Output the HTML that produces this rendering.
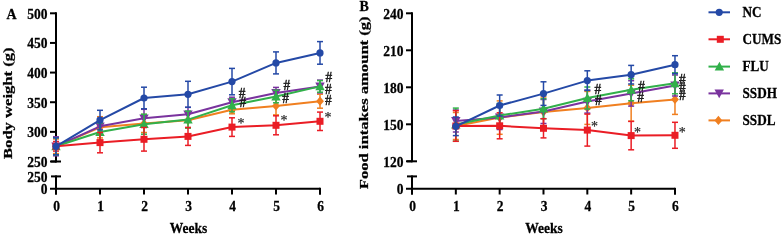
<!DOCTYPE html>
<html><head><meta charset="utf-8"><style>
html,body{margin:0;padding:0;background:#fff;width:783px;height:234px;overflow:hidden}
svg{display:block;will-change:transform}
text{font-family:"Liberation Serif",serif;font-weight:bold;fill:#000;stroke:#000;stroke-width:0.25px}
.an2{font-weight:normal;fill:#222;stroke:#222;stroke-width:0.2px}
.an{font-weight:normal;fill:#1a1a1a;stroke:#1a1a1a;stroke-width:0.45px}
</style></head><body>
<svg width="783" height="234" viewBox="0 0 783 234">
<line x1="56.00" y1="12.30" x2="56.00" y2="162.50" stroke="#000" stroke-width="2"/>
<line x1="50.00" y1="13.30" x2="56.00" y2="13.30" stroke="#000" stroke-width="2"/>
<text transform="translate(47.50,18.70) scale(1,1.15)" text-anchor="end" font-size="13.5" >500</text>
<line x1="50.00" y1="42.94" x2="56.00" y2="42.94" stroke="#000" stroke-width="2"/>
<text transform="translate(47.50,48.34) scale(1,1.15)" text-anchor="end" font-size="13.5" >450</text>
<line x1="50.00" y1="72.58" x2="56.00" y2="72.58" stroke="#000" stroke-width="2"/>
<text transform="translate(47.50,77.98) scale(1,1.15)" text-anchor="end" font-size="13.5" >400</text>
<line x1="50.00" y1="102.22" x2="56.00" y2="102.22" stroke="#000" stroke-width="2"/>
<text transform="translate(47.50,107.62) scale(1,1.15)" text-anchor="end" font-size="13.5" >350</text>
<line x1="50.00" y1="131.86" x2="56.00" y2="131.86" stroke="#000" stroke-width="2"/>
<text transform="translate(47.50,137.26) scale(1,1.15)" text-anchor="end" font-size="13.5" >300</text>
<line x1="50.00" y1="161.50" x2="56.00" y2="161.50" stroke="#000" stroke-width="2"/>
<text transform="translate(47.50,166.90) scale(1,1.15)" text-anchor="end" font-size="13.5" >250</text>
<line x1="51.00" y1="161.50" x2="61.00" y2="161.50" stroke="#000" stroke-width="2"/>
<line x1="51.00" y1="176.40" x2="61.00" y2="176.40" stroke="#000" stroke-width="2"/>
<line x1="56.00" y1="175.40" x2="56.00" y2="194.50" stroke="#000" stroke-width="2"/>
<text transform="translate(47.50,181.80) scale(1,1.15)" text-anchor="end" font-size="13.5" >250</text>
<line x1="50.00" y1="188.80" x2="320.00" y2="188.80" stroke="#000" stroke-width="2"/>
<text transform="translate(47.50,194.20) scale(1,1.15)" text-anchor="end" font-size="13.5" >0</text>
<line x1="56.00" y1="188.80" x2="56.00" y2="194.50" stroke="#000" stroke-width="2"/>
<text transform="translate(56.50,210.60) scale(1,1.15)" text-anchor="middle" font-size="13.5" >0</text>
<line x1="100.00" y1="188.80" x2="100.00" y2="194.50" stroke="#000" stroke-width="2"/>
<text transform="translate(100.50,210.60) scale(1,1.15)" text-anchor="middle" font-size="13.5" >1</text>
<line x1="144.00" y1="188.80" x2="144.00" y2="194.50" stroke="#000" stroke-width="2"/>
<text transform="translate(144.50,210.60) scale(1,1.15)" text-anchor="middle" font-size="13.5" >2</text>
<line x1="188.00" y1="188.80" x2="188.00" y2="194.50" stroke="#000" stroke-width="2"/>
<text transform="translate(188.50,210.60) scale(1,1.15)" text-anchor="middle" font-size="13.5" >3</text>
<line x1="232.00" y1="188.80" x2="232.00" y2="194.50" stroke="#000" stroke-width="2"/>
<text transform="translate(232.50,210.60) scale(1,1.15)" text-anchor="middle" font-size="13.5" >4</text>
<line x1="276.00" y1="188.80" x2="276.00" y2="194.50" stroke="#000" stroke-width="2"/>
<text transform="translate(276.50,210.60) scale(1,1.15)" text-anchor="middle" font-size="13.5" >5</text>
<line x1="320.00" y1="188.80" x2="320.00" y2="194.50" stroke="#000" stroke-width="2"/>
<text transform="translate(320.50,210.60) scale(1,1.15)" text-anchor="middle" font-size="13.5" >6</text>
<line x1="320.00" y1="187.80" x2="320.00" y2="194.50" stroke="#000" stroke-width="2"/>
<text transform="translate(188.50,232.60) scale(1,1.06)" text-anchor="middle" font-size="13.5" >Weeks</text>
<text transform="translate(12.40,103.20) scale(1,1.23) rotate(-90)" text-anchor="middle" font-size="13.5">Body weight (g)</text>
<text transform="translate(6.60,18.90) scale(1,1.08)" text-anchor="start" font-size="14" >A</text>
<line x1="56.00" y1="139.00" x2="56.00" y2="153.60" stroke="#f07f20" stroke-width="1.5"/>
<line x1="53.00" y1="139.00" x2="59.00" y2="139.00" stroke="#f07f20" stroke-width="1.5"/>
<line x1="53.00" y1="153.60" x2="59.00" y2="153.60" stroke="#f07f20" stroke-width="1.5"/>
<line x1="100.00" y1="116.70" x2="100.00" y2="137.90" stroke="#f07f20" stroke-width="1.5"/>
<line x1="97.00" y1="116.70" x2="103.00" y2="116.70" stroke="#f07f20" stroke-width="1.5"/>
<line x1="97.00" y1="137.90" x2="103.00" y2="137.90" stroke="#f07f20" stroke-width="1.5"/>
<line x1="144.00" y1="114.50" x2="144.00" y2="132.50" stroke="#f07f20" stroke-width="1.5"/>
<line x1="141.00" y1="114.50" x2="147.00" y2="114.50" stroke="#f07f20" stroke-width="1.5"/>
<line x1="141.00" y1="132.50" x2="147.00" y2="132.50" stroke="#f07f20" stroke-width="1.5"/>
<line x1="188.00" y1="112.80" x2="188.00" y2="127.80" stroke="#f07f20" stroke-width="1.5"/>
<line x1="185.00" y1="112.80" x2="191.00" y2="112.80" stroke="#f07f20" stroke-width="1.5"/>
<line x1="185.00" y1="127.80" x2="191.00" y2="127.80" stroke="#f07f20" stroke-width="1.5"/>
<line x1="232.00" y1="105.80" x2="232.00" y2="113.80" stroke="#f07f20" stroke-width="1.5"/>
<line x1="229.00" y1="105.80" x2="235.00" y2="105.80" stroke="#f07f20" stroke-width="1.5"/>
<line x1="229.00" y1="113.80" x2="235.00" y2="113.80" stroke="#f07f20" stroke-width="1.5"/>
<line x1="276.00" y1="96.90" x2="276.00" y2="114.90" stroke="#f07f20" stroke-width="1.5"/>
<line x1="273.00" y1="96.90" x2="279.00" y2="96.90" stroke="#f07f20" stroke-width="1.5"/>
<line x1="273.00" y1="114.90" x2="279.00" y2="114.90" stroke="#f07f20" stroke-width="1.5"/>
<line x1="320.00" y1="94.20" x2="320.00" y2="108.20" stroke="#f07f20" stroke-width="1.5"/>
<line x1="317.00" y1="94.20" x2="323.00" y2="94.20" stroke="#f07f20" stroke-width="1.5"/>
<line x1="317.00" y1="108.20" x2="323.00" y2="108.20" stroke="#f07f20" stroke-width="1.5"/>
<polyline points="56.00,146.30 100.00,127.30 144.00,123.50 188.00,120.30 232.00,109.80 276.00,105.90 320.00,101.20" fill="none" stroke="#f07f20" stroke-width="2.0" stroke-linejoin="round"/>
<polygon points="56.00,141.70 59.90,146.30 56.00,150.90 52.10,146.30" fill="#f07f20"/>
<polygon points="100.00,122.70 103.90,127.30 100.00,131.90 96.10,127.30" fill="#f07f20"/>
<polygon points="144.00,118.90 147.90,123.50 144.00,128.10 140.10,123.50" fill="#f07f20"/>
<polygon points="188.00,115.70 191.90,120.30 188.00,124.90 184.10,120.30" fill="#f07f20"/>
<polygon points="232.00,105.20 235.90,109.80 232.00,114.40 228.10,109.80" fill="#f07f20"/>
<polygon points="276.00,101.30 279.90,105.90 276.00,110.50 272.10,105.90" fill="#f07f20"/>
<polygon points="320.00,96.60 323.90,101.20 320.00,105.80 316.10,101.20" fill="#f07f20"/>
<line x1="56.00" y1="136.80" x2="56.00" y2="155.80" stroke="#7a339e" stroke-width="1.5"/>
<line x1="53.00" y1="136.80" x2="59.00" y2="136.80" stroke="#7a339e" stroke-width="1.5"/>
<line x1="53.00" y1="155.80" x2="59.00" y2="155.80" stroke="#7a339e" stroke-width="1.5"/>
<line x1="100.00" y1="118.30" x2="100.00" y2="134.30" stroke="#7a339e" stroke-width="1.5"/>
<line x1="97.00" y1="118.30" x2="103.00" y2="118.30" stroke="#7a339e" stroke-width="1.5"/>
<line x1="97.00" y1="134.30" x2="103.00" y2="134.30" stroke="#7a339e" stroke-width="1.5"/>
<line x1="144.00" y1="109.30" x2="144.00" y2="127.30" stroke="#7a339e" stroke-width="1.5"/>
<line x1="141.00" y1="109.30" x2="147.00" y2="109.30" stroke="#7a339e" stroke-width="1.5"/>
<line x1="141.00" y1="127.30" x2="147.00" y2="127.30" stroke="#7a339e" stroke-width="1.5"/>
<line x1="188.00" y1="107.30" x2="188.00" y2="121.30" stroke="#7a339e" stroke-width="1.5"/>
<line x1="185.00" y1="107.30" x2="191.00" y2="107.30" stroke="#7a339e" stroke-width="1.5"/>
<line x1="185.00" y1="121.30" x2="191.00" y2="121.30" stroke="#7a339e" stroke-width="1.5"/>
<line x1="232.00" y1="97.20" x2="232.00" y2="107.20" stroke="#7a339e" stroke-width="1.5"/>
<line x1="229.00" y1="97.20" x2="235.00" y2="97.20" stroke="#7a339e" stroke-width="1.5"/>
<line x1="229.00" y1="107.20" x2="235.00" y2="107.20" stroke="#7a339e" stroke-width="1.5"/>
<line x1="276.00" y1="87.40" x2="276.00" y2="98.40" stroke="#7a339e" stroke-width="1.5"/>
<line x1="273.00" y1="87.40" x2="279.00" y2="87.40" stroke="#7a339e" stroke-width="1.5"/>
<line x1="273.00" y1="98.40" x2="279.00" y2="98.40" stroke="#7a339e" stroke-width="1.5"/>
<line x1="320.00" y1="80.10" x2="320.00" y2="92.90" stroke="#7a339e" stroke-width="1.5"/>
<line x1="317.00" y1="80.10" x2="323.00" y2="80.10" stroke="#7a339e" stroke-width="1.5"/>
<line x1="317.00" y1="92.90" x2="323.00" y2="92.90" stroke="#7a339e" stroke-width="1.5"/>
<polyline points="56.00,146.30 100.00,126.30 144.00,118.30 188.00,114.30 232.00,102.20 276.00,92.90 320.00,86.50" fill="none" stroke="#7a339e" stroke-width="2.0" stroke-linejoin="round"/>
<polygon points="51.30,142.40 60.70,142.40 56.00,151.20" fill="#7a339e"/>
<polygon points="95.30,122.40 104.70,122.40 100.00,131.20" fill="#7a339e"/>
<polygon points="139.30,114.40 148.70,114.40 144.00,123.20" fill="#7a339e"/>
<polygon points="183.30,110.40 192.70,110.40 188.00,119.20" fill="#7a339e"/>
<polygon points="227.30,98.30 236.70,98.30 232.00,107.10" fill="#7a339e"/>
<polygon points="271.30,89.00 280.70,89.00 276.00,97.80" fill="#7a339e"/>
<polygon points="315.30,82.60 324.70,82.60 320.00,91.40" fill="#7a339e"/>
<line x1="56.00" y1="137.80" x2="56.00" y2="154.80" stroke="#31b04a" stroke-width="1.5"/>
<line x1="53.00" y1="137.80" x2="59.00" y2="137.80" stroke="#31b04a" stroke-width="1.5"/>
<line x1="53.00" y1="154.80" x2="59.00" y2="154.80" stroke="#31b04a" stroke-width="1.5"/>
<line x1="100.00" y1="123.00" x2="100.00" y2="141.00" stroke="#31b04a" stroke-width="1.5"/>
<line x1="97.00" y1="123.00" x2="103.00" y2="123.00" stroke="#31b04a" stroke-width="1.5"/>
<line x1="97.00" y1="141.00" x2="103.00" y2="141.00" stroke="#31b04a" stroke-width="1.5"/>
<line x1="144.00" y1="114.20" x2="144.00" y2="134.20" stroke="#31b04a" stroke-width="1.5"/>
<line x1="141.00" y1="114.20" x2="147.00" y2="114.20" stroke="#31b04a" stroke-width="1.5"/>
<line x1="141.00" y1="134.20" x2="147.00" y2="134.20" stroke="#31b04a" stroke-width="1.5"/>
<line x1="188.00" y1="111.10" x2="188.00" y2="128.10" stroke="#31b04a" stroke-width="1.5"/>
<line x1="185.00" y1="111.10" x2="191.00" y2="111.10" stroke="#31b04a" stroke-width="1.5"/>
<line x1="185.00" y1="128.10" x2="191.00" y2="128.10" stroke="#31b04a" stroke-width="1.5"/>
<line x1="232.00" y1="98.80" x2="232.00" y2="111.80" stroke="#31b04a" stroke-width="1.5"/>
<line x1="229.00" y1="98.80" x2="235.00" y2="98.80" stroke="#31b04a" stroke-width="1.5"/>
<line x1="229.00" y1="111.80" x2="235.00" y2="111.80" stroke="#31b04a" stroke-width="1.5"/>
<line x1="276.00" y1="90.20" x2="276.00" y2="102.80" stroke="#31b04a" stroke-width="1.5"/>
<line x1="273.00" y1="90.20" x2="279.00" y2="90.20" stroke="#31b04a" stroke-width="1.5"/>
<line x1="273.00" y1="102.80" x2="279.00" y2="102.80" stroke="#31b04a" stroke-width="1.5"/>
<line x1="320.00" y1="80.60" x2="320.00" y2="92.20" stroke="#31b04a" stroke-width="1.5"/>
<line x1="317.00" y1="80.60" x2="323.00" y2="80.60" stroke="#31b04a" stroke-width="1.5"/>
<line x1="317.00" y1="92.20" x2="323.00" y2="92.20" stroke="#31b04a" stroke-width="1.5"/>
<polyline points="56.00,146.30 100.00,132.00 144.00,124.20 188.00,119.60 232.00,105.30 276.00,96.50 320.00,86.40" fill="none" stroke="#31b04a" stroke-width="2.0" stroke-linejoin="round"/>
<polygon points="56.00,141.40 60.70,150.20 51.30,150.20" fill="#31b04a"/>
<polygon points="100.00,127.10 104.70,135.90 95.30,135.90" fill="#31b04a"/>
<polygon points="144.00,119.30 148.70,128.10 139.30,128.10" fill="#31b04a"/>
<polygon points="188.00,114.70 192.70,123.50 183.30,123.50" fill="#31b04a"/>
<polygon points="232.00,100.40 236.70,109.20 227.30,109.20" fill="#31b04a"/>
<polygon points="276.00,91.60 280.70,100.40 271.30,100.40" fill="#31b04a"/>
<polygon points="320.00,81.50 324.70,90.30 315.30,90.30" fill="#31b04a"/>
<line x1="56.00" y1="141.50" x2="56.00" y2="151.10" stroke="#ea1d25" stroke-width="1.5"/>
<line x1="53.00" y1="141.50" x2="59.00" y2="141.50" stroke="#ea1d25" stroke-width="1.5"/>
<line x1="53.00" y1="151.10" x2="59.00" y2="151.10" stroke="#ea1d25" stroke-width="1.5"/>
<line x1="100.00" y1="132.40" x2="100.00" y2="152.80" stroke="#ea1d25" stroke-width="1.5"/>
<line x1="97.00" y1="132.40" x2="103.00" y2="132.40" stroke="#ea1d25" stroke-width="1.5"/>
<line x1="97.00" y1="152.80" x2="103.00" y2="152.80" stroke="#ea1d25" stroke-width="1.5"/>
<line x1="144.00" y1="127.50" x2="144.00" y2="151.10" stroke="#ea1d25" stroke-width="1.5"/>
<line x1="141.00" y1="127.50" x2="147.00" y2="127.50" stroke="#ea1d25" stroke-width="1.5"/>
<line x1="141.00" y1="151.10" x2="147.00" y2="151.10" stroke="#ea1d25" stroke-width="1.5"/>
<line x1="188.00" y1="127.40" x2="188.00" y2="145.40" stroke="#ea1d25" stroke-width="1.5"/>
<line x1="185.00" y1="127.40" x2="191.00" y2="127.40" stroke="#ea1d25" stroke-width="1.5"/>
<line x1="185.00" y1="145.40" x2="191.00" y2="145.40" stroke="#ea1d25" stroke-width="1.5"/>
<line x1="232.00" y1="117.80" x2="232.00" y2="136.40" stroke="#ea1d25" stroke-width="1.5"/>
<line x1="229.00" y1="117.80" x2="235.00" y2="117.80" stroke="#ea1d25" stroke-width="1.5"/>
<line x1="229.00" y1="136.40" x2="235.00" y2="136.40" stroke="#ea1d25" stroke-width="1.5"/>
<line x1="276.00" y1="115.80" x2="276.00" y2="134.80" stroke="#ea1d25" stroke-width="1.5"/>
<line x1="273.00" y1="115.80" x2="279.00" y2="115.80" stroke="#ea1d25" stroke-width="1.5"/>
<line x1="273.00" y1="134.80" x2="279.00" y2="134.80" stroke="#ea1d25" stroke-width="1.5"/>
<line x1="320.00" y1="112.10" x2="320.00" y2="130.50" stroke="#ea1d25" stroke-width="1.5"/>
<line x1="317.00" y1="112.10" x2="323.00" y2="112.10" stroke="#ea1d25" stroke-width="1.5"/>
<line x1="317.00" y1="130.50" x2="323.00" y2="130.50" stroke="#ea1d25" stroke-width="1.5"/>
<polyline points="56.00,146.30 100.00,142.60 144.00,139.30 188.00,136.40 232.00,127.10 276.00,125.30 320.00,121.30" fill="none" stroke="#ea1d25" stroke-width="2.0" stroke-linejoin="round"/>
<rect x="52.50" y="142.80" width="7" height="7" fill="#ea1d25"/>
<rect x="96.50" y="139.10" width="7" height="7" fill="#ea1d25"/>
<rect x="140.50" y="135.80" width="7" height="7" fill="#ea1d25"/>
<rect x="184.50" y="132.90" width="7" height="7" fill="#ea1d25"/>
<rect x="228.50" y="123.60" width="7" height="7" fill="#ea1d25"/>
<rect x="272.50" y="121.80" width="7" height="7" fill="#ea1d25"/>
<rect x="316.50" y="117.80" width="7" height="7" fill="#ea1d25"/>
<line x1="56.00" y1="137.80" x2="56.00" y2="154.80" stroke="#2449a6" stroke-width="1.5"/>
<line x1="53.00" y1="137.80" x2="59.00" y2="137.80" stroke="#2449a6" stroke-width="1.5"/>
<line x1="53.00" y1="154.80" x2="59.00" y2="154.80" stroke="#2449a6" stroke-width="1.5"/>
<line x1="100.00" y1="110.30" x2="100.00" y2="129.90" stroke="#2449a6" stroke-width="1.5"/>
<line x1="97.00" y1="110.30" x2="103.00" y2="110.30" stroke="#2449a6" stroke-width="1.5"/>
<line x1="97.00" y1="129.90" x2="103.00" y2="129.90" stroke="#2449a6" stroke-width="1.5"/>
<line x1="144.00" y1="87.20" x2="144.00" y2="108.80" stroke="#2449a6" stroke-width="1.5"/>
<line x1="141.00" y1="87.20" x2="147.00" y2="87.20" stroke="#2449a6" stroke-width="1.5"/>
<line x1="141.00" y1="108.80" x2="147.00" y2="108.80" stroke="#2449a6" stroke-width="1.5"/>
<line x1="188.00" y1="81.30" x2="188.00" y2="107.30" stroke="#2449a6" stroke-width="1.5"/>
<line x1="185.00" y1="81.30" x2="191.00" y2="81.30" stroke="#2449a6" stroke-width="1.5"/>
<line x1="185.00" y1="107.30" x2="191.00" y2="107.30" stroke="#2449a6" stroke-width="1.5"/>
<line x1="232.00" y1="68.40" x2="232.00" y2="94.80" stroke="#2449a6" stroke-width="1.5"/>
<line x1="229.00" y1="68.40" x2="235.00" y2="68.40" stroke="#2449a6" stroke-width="1.5"/>
<line x1="229.00" y1="94.80" x2="235.00" y2="94.80" stroke="#2449a6" stroke-width="1.5"/>
<line x1="276.00" y1="51.90" x2="276.00" y2="73.90" stroke="#2449a6" stroke-width="1.5"/>
<line x1="273.00" y1="51.90" x2="279.00" y2="51.90" stroke="#2449a6" stroke-width="1.5"/>
<line x1="273.00" y1="73.90" x2="279.00" y2="73.90" stroke="#2449a6" stroke-width="1.5"/>
<line x1="320.00" y1="41.60" x2="320.00" y2="64.20" stroke="#2449a6" stroke-width="1.5"/>
<line x1="317.00" y1="41.60" x2="323.00" y2="41.60" stroke="#2449a6" stroke-width="1.5"/>
<line x1="317.00" y1="64.20" x2="323.00" y2="64.20" stroke="#2449a6" stroke-width="1.5"/>
<polyline points="56.00,146.30 100.00,120.10 144.00,98.00 188.00,94.30 232.00,81.60 276.00,62.90 320.00,52.90" fill="none" stroke="#2449a6" stroke-width="2.0" stroke-linejoin="round"/>
<circle cx="56.00" cy="146.30" r="3.6" fill="#2449a6"/>
<circle cx="100.00" cy="120.10" r="3.6" fill="#2449a6"/>
<circle cx="144.00" cy="98.00" r="3.6" fill="#2449a6"/>
<circle cx="188.00" cy="94.30" r="3.6" fill="#2449a6"/>
<circle cx="232.00" cy="81.60" r="3.6" fill="#2449a6"/>
<circle cx="276.00" cy="62.90" r="3.6" fill="#2449a6"/>
<circle cx="320.00" cy="52.90" r="3.6" fill="#2449a6"/>
<line x1="412.00" y1="12.30" x2="412.00" y2="162.30" stroke="#000" stroke-width="2"/>
<line x1="406.00" y1="13.30" x2="412.00" y2="13.30" stroke="#000" stroke-width="2"/>
<text transform="translate(403.50,18.70) scale(1,1.15)" text-anchor="end" font-size="13.5" >240</text>
<line x1="406.00" y1="50.30" x2="412.00" y2="50.30" stroke="#000" stroke-width="2"/>
<text transform="translate(403.50,55.70) scale(1,1.15)" text-anchor="end" font-size="13.5" >210</text>
<line x1="406.00" y1="87.30" x2="412.00" y2="87.30" stroke="#000" stroke-width="2"/>
<text transform="translate(403.50,92.70) scale(1,1.15)" text-anchor="end" font-size="13.5" >180</text>
<line x1="406.00" y1="124.30" x2="412.00" y2="124.30" stroke="#000" stroke-width="2"/>
<text transform="translate(403.50,129.70) scale(1,1.15)" text-anchor="end" font-size="13.5" >150</text>
<line x1="406.00" y1="161.30" x2="412.00" y2="161.30" stroke="#000" stroke-width="2"/>
<text transform="translate(403.50,166.70) scale(1,1.15)" text-anchor="end" font-size="13.5" >120</text>
<line x1="407.00" y1="161.30" x2="417.00" y2="161.30" stroke="#000" stroke-width="2"/>
<line x1="407.00" y1="176.40" x2="417.00" y2="176.40" stroke="#000" stroke-width="2"/>
<line x1="412.00" y1="175.40" x2="412.00" y2="194.50" stroke="#000" stroke-width="2"/>
<line x1="406.00" y1="188.80" x2="674.98" y2="188.80" stroke="#000" stroke-width="2"/>
<text transform="translate(403.50,194.20) scale(1,1.15)" text-anchor="end" font-size="13.5" >0</text>
<line x1="412.00" y1="188.80" x2="412.00" y2="194.50" stroke="#000" stroke-width="2"/>
<text transform="translate(412.50,210.60) scale(1,1.15)" text-anchor="middle" font-size="13.5" >0</text>
<line x1="455.83" y1="188.80" x2="455.83" y2="194.50" stroke="#000" stroke-width="2"/>
<text transform="translate(456.33,210.60) scale(1,1.15)" text-anchor="middle" font-size="13.5" >1</text>
<line x1="499.66" y1="188.80" x2="499.66" y2="194.50" stroke="#000" stroke-width="2"/>
<text transform="translate(500.16,210.60) scale(1,1.15)" text-anchor="middle" font-size="13.5" >2</text>
<line x1="543.49" y1="188.80" x2="543.49" y2="194.50" stroke="#000" stroke-width="2"/>
<text transform="translate(543.99,210.60) scale(1,1.15)" text-anchor="middle" font-size="13.5" >3</text>
<line x1="587.32" y1="188.80" x2="587.32" y2="194.50" stroke="#000" stroke-width="2"/>
<text transform="translate(587.82,210.60) scale(1,1.15)" text-anchor="middle" font-size="13.5" >4</text>
<line x1="631.15" y1="188.80" x2="631.15" y2="194.50" stroke="#000" stroke-width="2"/>
<text transform="translate(631.65,210.60) scale(1,1.15)" text-anchor="middle" font-size="13.5" >5</text>
<line x1="674.98" y1="188.80" x2="674.98" y2="194.50" stroke="#000" stroke-width="2"/>
<text transform="translate(675.48,210.60) scale(1,1.15)" text-anchor="middle" font-size="13.5" >6</text>
<line x1="674.98" y1="187.80" x2="674.98" y2="194.50" stroke="#000" stroke-width="2"/>
<text transform="translate(543.99,232.60) scale(1,1.06)" text-anchor="middle" font-size="13.5" >Weeks</text>
<text transform="translate(368.40,102.80) scale(1,1.23) rotate(-90)" text-anchor="middle" font-size="13.5">Food intakes amount (g)</text>
<text transform="translate(359.60,10.90) scale(1,1.08)" text-anchor="start" font-size="14" >B</text>
<line x1="455.83" y1="112.50" x2="455.83" y2="139.50" stroke="#f07f20" stroke-width="1.5"/>
<line x1="452.83" y1="112.50" x2="458.83" y2="112.50" stroke="#f07f20" stroke-width="1.5"/>
<line x1="452.83" y1="139.50" x2="458.83" y2="139.50" stroke="#f07f20" stroke-width="1.5"/>
<line x1="499.66" y1="100.90" x2="499.66" y2="134.30" stroke="#f07f20" stroke-width="1.5"/>
<line x1="496.66" y1="100.90" x2="502.66" y2="100.90" stroke="#f07f20" stroke-width="1.5"/>
<line x1="496.66" y1="134.30" x2="502.66" y2="134.30" stroke="#f07f20" stroke-width="1.5"/>
<line x1="543.49" y1="97.00" x2="543.49" y2="127.00" stroke="#f07f20" stroke-width="1.5"/>
<line x1="540.49" y1="97.00" x2="546.49" y2="97.00" stroke="#f07f20" stroke-width="1.5"/>
<line x1="540.49" y1="127.00" x2="546.49" y2="127.00" stroke="#f07f20" stroke-width="1.5"/>
<line x1="587.32" y1="91.40" x2="587.32" y2="124.40" stroke="#f07f20" stroke-width="1.5"/>
<line x1="584.32" y1="91.40" x2="590.32" y2="91.40" stroke="#f07f20" stroke-width="1.5"/>
<line x1="584.32" y1="124.40" x2="590.32" y2="124.40" stroke="#f07f20" stroke-width="1.5"/>
<line x1="631.15" y1="85.20" x2="631.15" y2="121.20" stroke="#f07f20" stroke-width="1.5"/>
<line x1="628.15" y1="85.20" x2="634.15" y2="85.20" stroke="#f07f20" stroke-width="1.5"/>
<line x1="628.15" y1="121.20" x2="634.15" y2="121.20" stroke="#f07f20" stroke-width="1.5"/>
<line x1="674.98" y1="84.40" x2="674.98" y2="114.40" stroke="#f07f20" stroke-width="1.5"/>
<line x1="671.98" y1="84.40" x2="677.98" y2="84.40" stroke="#f07f20" stroke-width="1.5"/>
<line x1="671.98" y1="114.40" x2="677.98" y2="114.40" stroke="#f07f20" stroke-width="1.5"/>
<polyline points="455.83,126.00 499.66,117.60 543.49,112.00 587.32,107.90 631.15,103.20 674.98,99.40" fill="none" stroke="#f07f20" stroke-width="2.0" stroke-linejoin="round"/>
<polygon points="455.83,121.40 459.73,126.00 455.83,130.60 451.93,126.00" fill="#f07f20"/>
<polygon points="499.66,113.00 503.56,117.60 499.66,122.20 495.76,117.60" fill="#f07f20"/>
<polygon points="543.49,107.40 547.39,112.00 543.49,116.60 539.59,112.00" fill="#f07f20"/>
<polygon points="587.32,103.30 591.22,107.90 587.32,112.50 583.42,107.90" fill="#f07f20"/>
<polygon points="631.15,98.60 635.05,103.20 631.15,107.80 627.25,103.20" fill="#f07f20"/>
<polygon points="674.98,94.80 678.88,99.40 674.98,104.00 671.08,99.40" fill="#f07f20"/>
<line x1="455.83" y1="110.00" x2="455.83" y2="132.00" stroke="#7a339e" stroke-width="1.5"/>
<line x1="452.83" y1="110.00" x2="458.83" y2="110.00" stroke="#7a339e" stroke-width="1.5"/>
<line x1="452.83" y1="132.00" x2="458.83" y2="132.00" stroke="#7a339e" stroke-width="1.5"/>
<line x1="499.66" y1="105.50" x2="499.66" y2="129.50" stroke="#7a339e" stroke-width="1.5"/>
<line x1="496.66" y1="105.50" x2="502.66" y2="105.50" stroke="#7a339e" stroke-width="1.5"/>
<line x1="496.66" y1="129.50" x2="502.66" y2="129.50" stroke="#7a339e" stroke-width="1.5"/>
<line x1="543.49" y1="99.50" x2="543.49" y2="123.50" stroke="#7a339e" stroke-width="1.5"/>
<line x1="540.49" y1="99.50" x2="546.49" y2="99.50" stroke="#7a339e" stroke-width="1.5"/>
<line x1="540.49" y1="123.50" x2="546.49" y2="123.50" stroke="#7a339e" stroke-width="1.5"/>
<line x1="587.32" y1="90.10" x2="587.32" y2="113.10" stroke="#7a339e" stroke-width="1.5"/>
<line x1="584.32" y1="90.10" x2="590.32" y2="90.10" stroke="#7a339e" stroke-width="1.5"/>
<line x1="584.32" y1="113.10" x2="590.32" y2="113.10" stroke="#7a339e" stroke-width="1.5"/>
<line x1="631.15" y1="80.70" x2="631.15" y2="106.10" stroke="#7a339e" stroke-width="1.5"/>
<line x1="628.15" y1="80.70" x2="634.15" y2="80.70" stroke="#7a339e" stroke-width="1.5"/>
<line x1="628.15" y1="106.10" x2="634.15" y2="106.10" stroke="#7a339e" stroke-width="1.5"/>
<line x1="674.98" y1="75.00" x2="674.98" y2="96.00" stroke="#7a339e" stroke-width="1.5"/>
<line x1="671.98" y1="75.00" x2="677.98" y2="75.00" stroke="#7a339e" stroke-width="1.5"/>
<line x1="671.98" y1="96.00" x2="677.98" y2="96.00" stroke="#7a339e" stroke-width="1.5"/>
<polyline points="455.83,121.00 499.66,117.50 543.49,111.50 587.32,101.60 631.15,93.40 674.98,85.50" fill="none" stroke="#7a339e" stroke-width="2.0" stroke-linejoin="round"/>
<polygon points="451.13,117.10 460.53,117.10 455.83,125.90" fill="#7a339e"/>
<polygon points="494.96,113.60 504.36,113.60 499.66,122.40" fill="#7a339e"/>
<polygon points="538.79,107.60 548.19,107.60 543.49,116.40" fill="#7a339e"/>
<polygon points="582.62,97.70 592.02,97.70 587.32,106.50" fill="#7a339e"/>
<polygon points="626.45,89.50 635.85,89.50 631.15,98.30" fill="#7a339e"/>
<polygon points="670.28,81.60 679.68,81.60 674.98,90.40" fill="#7a339e"/>
<line x1="455.83" y1="108.10" x2="455.83" y2="141.10" stroke="#31b04a" stroke-width="1.5"/>
<line x1="452.83" y1="108.10" x2="458.83" y2="108.10" stroke="#31b04a" stroke-width="1.5"/>
<line x1="452.83" y1="141.10" x2="458.83" y2="141.10" stroke="#31b04a" stroke-width="1.5"/>
<line x1="499.66" y1="103.50" x2="499.66" y2="127.50" stroke="#31b04a" stroke-width="1.5"/>
<line x1="496.66" y1="103.50" x2="502.66" y2="103.50" stroke="#31b04a" stroke-width="1.5"/>
<line x1="496.66" y1="127.50" x2="502.66" y2="127.50" stroke="#31b04a" stroke-width="1.5"/>
<line x1="543.49" y1="98.70" x2="543.49" y2="118.70" stroke="#31b04a" stroke-width="1.5"/>
<line x1="540.49" y1="98.70" x2="546.49" y2="98.70" stroke="#31b04a" stroke-width="1.5"/>
<line x1="540.49" y1="118.70" x2="546.49" y2="118.70" stroke="#31b04a" stroke-width="1.5"/>
<line x1="587.32" y1="87.00" x2="587.32" y2="109.00" stroke="#31b04a" stroke-width="1.5"/>
<line x1="584.32" y1="87.00" x2="590.32" y2="87.00" stroke="#31b04a" stroke-width="1.5"/>
<line x1="584.32" y1="109.00" x2="590.32" y2="109.00" stroke="#31b04a" stroke-width="1.5"/>
<line x1="631.15" y1="78.80" x2="631.15" y2="100.80" stroke="#31b04a" stroke-width="1.5"/>
<line x1="628.15" y1="78.80" x2="634.15" y2="78.80" stroke="#31b04a" stroke-width="1.5"/>
<line x1="628.15" y1="100.80" x2="634.15" y2="100.80" stroke="#31b04a" stroke-width="1.5"/>
<line x1="674.98" y1="72.80" x2="674.98" y2="93.80" stroke="#31b04a" stroke-width="1.5"/>
<line x1="671.98" y1="72.80" x2="677.98" y2="72.80" stroke="#31b04a" stroke-width="1.5"/>
<line x1="671.98" y1="93.80" x2="677.98" y2="93.80" stroke="#31b04a" stroke-width="1.5"/>
<polyline points="455.83,124.60 499.66,115.50 543.49,108.70 587.32,98.00 631.15,89.80 674.98,83.30" fill="none" stroke="#31b04a" stroke-width="2.0" stroke-linejoin="round"/>
<polygon points="455.83,119.70 460.53,128.50 451.13,128.50" fill="#31b04a"/>
<polygon points="499.66,110.60 504.36,119.40 494.96,119.40" fill="#31b04a"/>
<polygon points="543.49,103.80 548.19,112.60 538.79,112.60" fill="#31b04a"/>
<polygon points="587.32,93.10 592.02,101.90 582.62,101.90" fill="#31b04a"/>
<polygon points="631.15,84.90 635.85,93.70 626.45,93.70" fill="#31b04a"/>
<polygon points="674.98,78.40 679.68,87.20 670.28,87.20" fill="#31b04a"/>
<line x1="455.83" y1="110.70" x2="455.83" y2="141.30" stroke="#ea1d25" stroke-width="1.5"/>
<line x1="452.83" y1="110.70" x2="458.83" y2="110.70" stroke="#ea1d25" stroke-width="1.5"/>
<line x1="452.83" y1="141.30" x2="458.83" y2="141.30" stroke="#ea1d25" stroke-width="1.5"/>
<line x1="499.66" y1="112.80" x2="499.66" y2="138.80" stroke="#ea1d25" stroke-width="1.5"/>
<line x1="496.66" y1="112.80" x2="502.66" y2="112.80" stroke="#ea1d25" stroke-width="1.5"/>
<line x1="496.66" y1="138.80" x2="502.66" y2="138.80" stroke="#ea1d25" stroke-width="1.5"/>
<line x1="543.49" y1="118.70" x2="543.49" y2="137.90" stroke="#ea1d25" stroke-width="1.5"/>
<line x1="540.49" y1="118.70" x2="546.49" y2="118.70" stroke="#ea1d25" stroke-width="1.5"/>
<line x1="540.49" y1="137.90" x2="546.49" y2="137.90" stroke="#ea1d25" stroke-width="1.5"/>
<line x1="587.32" y1="114.10" x2="587.32" y2="146.10" stroke="#ea1d25" stroke-width="1.5"/>
<line x1="584.32" y1="114.10" x2="590.32" y2="114.10" stroke="#ea1d25" stroke-width="1.5"/>
<line x1="584.32" y1="146.10" x2="590.32" y2="146.10" stroke="#ea1d25" stroke-width="1.5"/>
<line x1="631.15" y1="121.40" x2="631.15" y2="149.80" stroke="#ea1d25" stroke-width="1.5"/>
<line x1="628.15" y1="121.40" x2="634.15" y2="121.40" stroke="#ea1d25" stroke-width="1.5"/>
<line x1="628.15" y1="149.80" x2="634.15" y2="149.80" stroke="#ea1d25" stroke-width="1.5"/>
<line x1="674.98" y1="122.30" x2="674.98" y2="148.30" stroke="#ea1d25" stroke-width="1.5"/>
<line x1="671.98" y1="122.30" x2="677.98" y2="122.30" stroke="#ea1d25" stroke-width="1.5"/>
<line x1="671.98" y1="148.30" x2="677.98" y2="148.30" stroke="#ea1d25" stroke-width="1.5"/>
<polyline points="455.83,126.00 499.66,125.80 543.49,128.30 587.32,130.10 631.15,135.60 674.98,135.30" fill="none" stroke="#ea1d25" stroke-width="2.0" stroke-linejoin="round"/>
<rect x="452.33" y="122.50" width="7" height="7" fill="#ea1d25"/>
<rect x="496.16" y="122.30" width="7" height="7" fill="#ea1d25"/>
<rect x="539.99" y="124.80" width="7" height="7" fill="#ea1d25"/>
<rect x="583.82" y="126.60" width="7" height="7" fill="#ea1d25"/>
<rect x="627.65" y="132.10" width="7" height="7" fill="#ea1d25"/>
<rect x="671.48" y="131.80" width="7" height="7" fill="#ea1d25"/>
<line x1="455.83" y1="117.00" x2="455.83" y2="135.60" stroke="#2449a6" stroke-width="1.5"/>
<line x1="452.83" y1="117.00" x2="458.83" y2="117.00" stroke="#2449a6" stroke-width="1.5"/>
<line x1="452.83" y1="135.60" x2="458.83" y2="135.60" stroke="#2449a6" stroke-width="1.5"/>
<line x1="499.66" y1="95.00" x2="499.66" y2="116.00" stroke="#2449a6" stroke-width="1.5"/>
<line x1="496.66" y1="95.00" x2="502.66" y2="95.00" stroke="#2449a6" stroke-width="1.5"/>
<line x1="496.66" y1="116.00" x2="502.66" y2="116.00" stroke="#2449a6" stroke-width="1.5"/>
<line x1="543.49" y1="81.80" x2="543.49" y2="105.40" stroke="#2449a6" stroke-width="1.5"/>
<line x1="540.49" y1="81.80" x2="546.49" y2="81.80" stroke="#2449a6" stroke-width="1.5"/>
<line x1="540.49" y1="105.40" x2="546.49" y2="105.40" stroke="#2449a6" stroke-width="1.5"/>
<line x1="587.32" y1="70.80" x2="587.32" y2="90.40" stroke="#2449a6" stroke-width="1.5"/>
<line x1="584.32" y1="70.80" x2="590.32" y2="70.80" stroke="#2449a6" stroke-width="1.5"/>
<line x1="584.32" y1="90.40" x2="590.32" y2="90.40" stroke="#2449a6" stroke-width="1.5"/>
<line x1="631.15" y1="65.40" x2="631.15" y2="84.00" stroke="#2449a6" stroke-width="1.5"/>
<line x1="628.15" y1="65.40" x2="634.15" y2="65.40" stroke="#2449a6" stroke-width="1.5"/>
<line x1="628.15" y1="84.00" x2="634.15" y2="84.00" stroke="#2449a6" stroke-width="1.5"/>
<line x1="674.98" y1="55.70" x2="674.98" y2="73.70" stroke="#2449a6" stroke-width="1.5"/>
<line x1="671.98" y1="55.70" x2="677.98" y2="55.70" stroke="#2449a6" stroke-width="1.5"/>
<line x1="671.98" y1="73.70" x2="677.98" y2="73.70" stroke="#2449a6" stroke-width="1.5"/>
<polyline points="455.83,126.30 499.66,105.50 543.49,93.60 587.32,80.60 631.15,74.70 674.98,64.70" fill="none" stroke="#2449a6" stroke-width="2.0" stroke-linejoin="round"/>
<circle cx="455.83" cy="126.30" r="3.6" fill="#2449a6"/>
<circle cx="499.66" cy="105.50" r="3.6" fill="#2449a6"/>
<circle cx="543.49" cy="93.60" r="3.6" fill="#2449a6"/>
<circle cx="587.32" cy="80.60" r="3.6" fill="#2449a6"/>
<circle cx="631.15" cy="74.70" r="3.6" fill="#2449a6"/>
<circle cx="674.98" cy="64.70" r="3.6" fill="#2449a6"/>
<line x1="708.50" y1="12.30" x2="730.00" y2="12.30" stroke="#2449a6" stroke-width="2"/>
<circle cx="719.20" cy="12.30" r="3.6" fill="#2449a6"/>
<text transform="translate(742.50,16.80) scale(1,1.1)" text-anchor="start" font-size="13.2" >NC</text>
<line x1="708.50" y1="39.30" x2="730.00" y2="39.30" stroke="#ea1d25" stroke-width="2"/>
<rect x="716.80" y="35.80" width="7" height="7" fill="#ea1d25"/>
<text transform="translate(742.50,43.80) scale(1,1.1)" text-anchor="start" font-size="13.2" >CUMS</text>
<line x1="708.50" y1="66.60" x2="730.00" y2="66.60" stroke="#31b04a" stroke-width="2"/>
<polygon points="719.40,61.70 724.10,70.50 714.70,70.50" fill="#31b04a"/>
<text transform="translate(742.50,71.10) scale(1,1.1)" text-anchor="start" font-size="13.2" >FLU</text>
<line x1="708.50" y1="93.40" x2="730.00" y2="93.40" stroke="#7a339e" stroke-width="2"/>
<polygon points="714.50,89.50 723.90,89.50 719.20,98.30" fill="#7a339e"/>
<text transform="translate(742.50,97.90) scale(1,1.1)" text-anchor="start" font-size="13.2" >SSDH</text>
<line x1="708.50" y1="120.40" x2="730.00" y2="120.40" stroke="#f07f20" stroke-width="2"/>
<polygon points="718.40,115.80 722.30,120.40 718.40,125.00 714.50,120.40" fill="#f07f20"/>
<text transform="translate(742.50,124.90) scale(1,1.1)" text-anchor="start" font-size="13.2" >SSDL</text>
<text transform="translate(242.00,97.60) scale(1,1.13)" text-anchor="middle" font-size="13.3" class="an">#</text>
<text transform="translate(242.70,107.20) scale(1,1.13)" text-anchor="middle" font-size="13.3" class="an">#</text>
<text x="240.90" y="128.20" text-anchor="middle" font-size="14" class="an2">*</text>
<text transform="translate(286.70,90.40) scale(1,1.13)" text-anchor="middle" font-size="13.3" class="an">#</text>
<text transform="translate(285.50,102.60) scale(1,1.13)" text-anchor="middle" font-size="13.3" class="an">#</text>
<text x="283.90" y="124.90" text-anchor="middle" font-size="14" class="an2">*</text>
<text transform="translate(328.90,82.10) scale(1,1.13)" text-anchor="middle" font-size="13.3" class="an">#</text>
<text transform="translate(328.20,93.60) scale(1,1.13)" text-anchor="middle" font-size="13.3" class="an">#</text>
<text transform="translate(328.20,104.60) scale(1,1.13)" text-anchor="middle" font-size="13.3" class="an">#</text>
<text x="327.90" y="121.80" text-anchor="middle" font-size="14" class="an2">*</text>
<text transform="translate(597.80,93.70) scale(1,1.13)" text-anchor="middle" font-size="13.3" class="an">#</text>
<text transform="translate(598.40,105.10) scale(1,1.13)" text-anchor="middle" font-size="13.3" class="an">#</text>
<text x="594.40" y="130.60" text-anchor="middle" font-size="14" class="an2">*</text>
<text transform="translate(641.50,90.60) scale(1,1.13)" text-anchor="middle" font-size="13.3" class="an">#</text>
<text transform="translate(640.50,101.90) scale(1,1.13)" text-anchor="middle" font-size="13.3" class="an">#</text>
<text x="637.50" y="137.10" text-anchor="middle" font-size="14" class="an2">*</text>
<text transform="translate(682.40,83.90) scale(1,1.13)" text-anchor="middle" font-size="13.3" class="an">#</text>
<text transform="translate(682.40,91.80) scale(1,1.13)" text-anchor="middle" font-size="13.3" class="an">#</text>
<text transform="translate(682.40,99.70) scale(1,1.13)" text-anchor="middle" font-size="13.3" class="an">#</text>
<text x="682.30" y="137.00" text-anchor="middle" font-size="14" class="an2">*</text>
</svg>
</body></html>
